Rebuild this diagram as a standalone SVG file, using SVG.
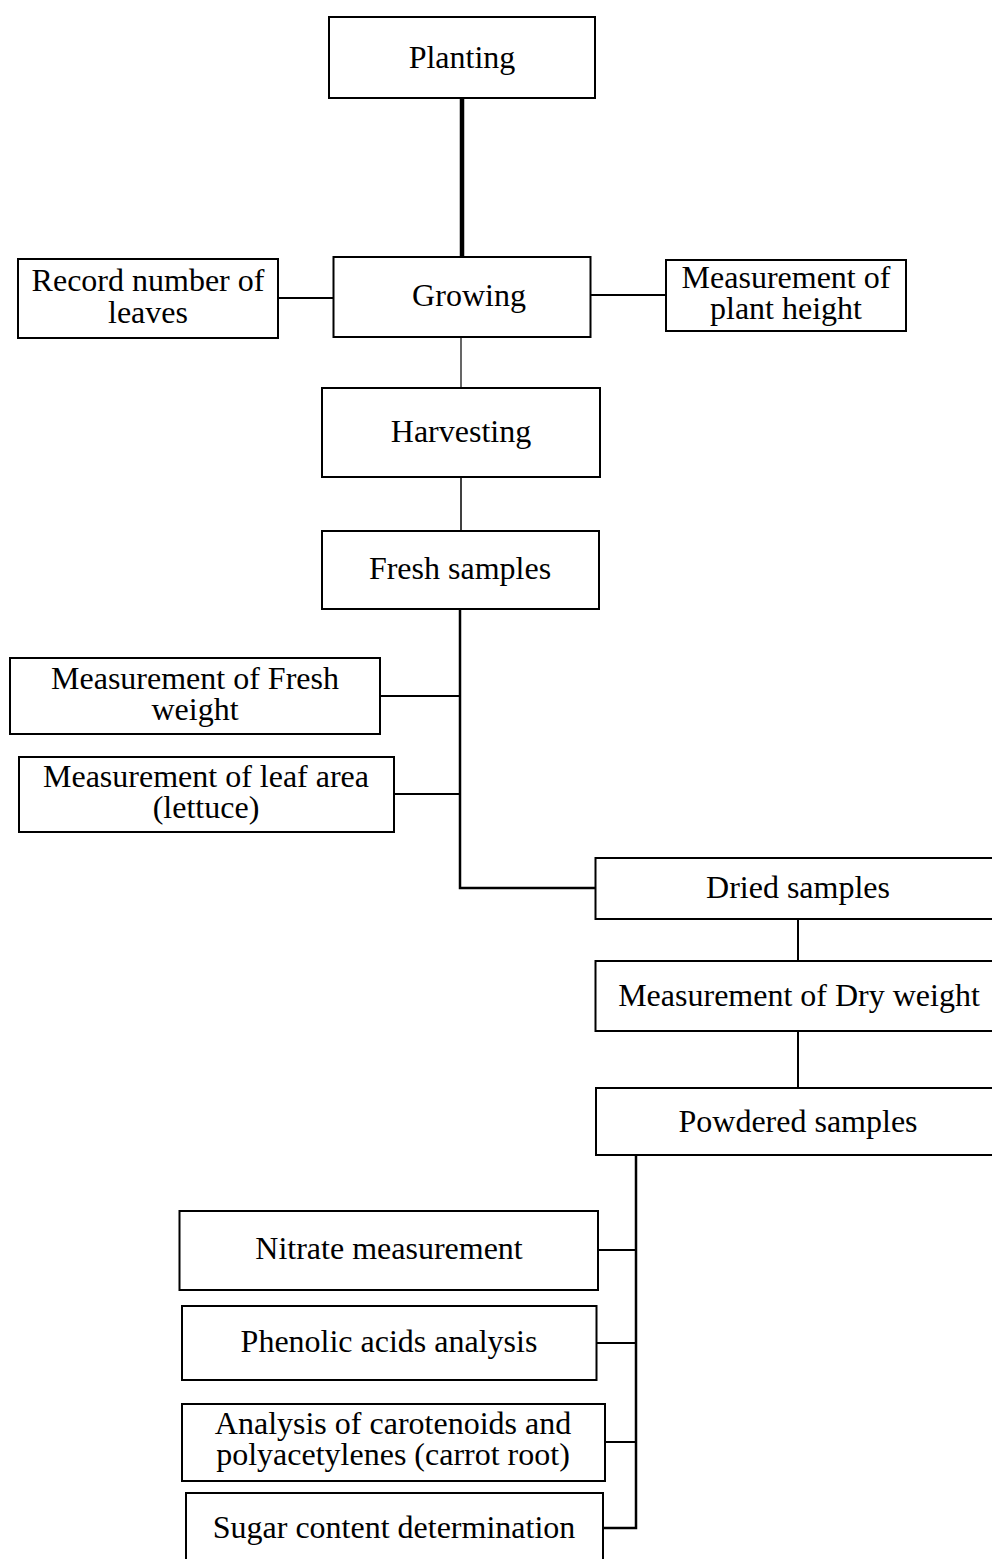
<svg xmlns="http://www.w3.org/2000/svg" width="992" height="1559" viewBox="0 0 992 1559">
<style>
.box{fill:#fff;stroke:#000;stroke-width:2}
.t{font-family:"Liberation Serif","Times New Roman",serif;font-size:32px;fill:#000;text-anchor:middle}
.c{fill:none;stroke:#000;stroke-width:2}
</style>
<rect width="992" height="1559" fill="#fff"/>
<g id="connectors">
<path class="c" d="M462 98 V257" style="stroke-width:4.5"/>
<path class="c" d="M278 298 H333.5"/>
<path class="c" d="M590.5 295 H666"/>
<path class="c" d="M461 337 V388" style="stroke-width:1.2"/>
<path class="c" d="M461 477 V531" style="stroke-width:1.5"/>
<path class="c" d="M460 609 V888 H595.5" style="stroke-width:2.5"/>
<path class="c" d="M380 696 H460"/>
<path class="c" d="M394 794 H460"/>
<path class="c" d="M798 919 V961"/>
<path class="c" d="M798 1031 V1088"/>
<path class="c" d="M636 1155 V1528 H603" style="stroke-width:2.5"/>
<path class="c" d="M598 1250 H636"/>
<path class="c" d="M596.5 1343 H636"/>
<path class="c" d="M605 1442 H636"/>
</g>
<g id="planting"><rect class="box" x="329" y="17" width="266" height="81"/><text class="t" x="462" y="68">Planting</text></g>
<g id="growing"><rect class="box" x="333.5" y="257" width="257" height="80"/><text class="t" x="469" y="306">Growing</text></g>
<g id="record-leaves"><rect class="box" x="18" y="259" width="260" height="79"/><text class="t" x="148" y="291">Record number of</text><text class="t" x="148" y="323">leaves</text></g>
<g id="plant-height"><rect class="box" x="666" y="260" width="240" height="71"/><text class="t" x="786" y="288">Measurement of</text><text class="t" x="786" y="319">plant height</text></g>
<g id="harvesting"><rect class="box" x="322" y="388" width="278" height="89"/><text class="t" x="461" y="442">Harvesting</text></g>
<g id="fresh-samples"><rect class="box" x="322" y="531" width="277" height="78"/><text class="t" x="460" y="579">Fresh samples</text></g>
<g id="fresh-weight"><rect class="box" x="10" y="658" width="370" height="76"/><text class="t" x="195" y="689">Measurement of Fresh</text><text class="t" x="195" y="720">weight</text></g>
<g id="leaf-area"><rect class="box" x="19" y="757" width="375" height="75"/><text class="t" x="206" y="787">Measurement of leaf area</text><text class="t" x="206" y="818">(lettuce)</text></g>
<g id="dried-samples"><rect class="box" x="595.5" y="858" width="400" height="61"/><text class="t" x="798" y="898">Dried samples</text></g>
<g id="dry-weight"><rect class="box" x="595.5" y="961" width="400" height="70"/><text class="t" x="799" y="1006">Measurement of Dry weight</text></g>
<g id="powdered-samples"><rect class="box" x="596" y="1088" width="400" height="67"/><text class="t" x="798" y="1132">Powdered samples</text></g>
<g id="nitrate"><rect class="box" x="179.5" y="1211" width="418.5" height="79"/><text class="t" x="389" y="1259">Nitrate measurement</text></g>
<g id="phenolic"><rect class="box" x="182" y="1306" width="414.5" height="74"/><text class="t" x="389" y="1352">Phenolic acids analysis</text></g>
<g id="carotenoids"><rect class="box" x="182" y="1404" width="423" height="77"/><text class="t" x="393" y="1434">Analysis of carotenoids and</text><text class="t" x="393" y="1465">polyacetylenes (carrot root)</text></g>
<g id="sugar"><rect class="box" x="186" y="1493" width="417" height="80"/><text class="t" x="394" y="1538">Sugar content determination</text></g>
</svg>
